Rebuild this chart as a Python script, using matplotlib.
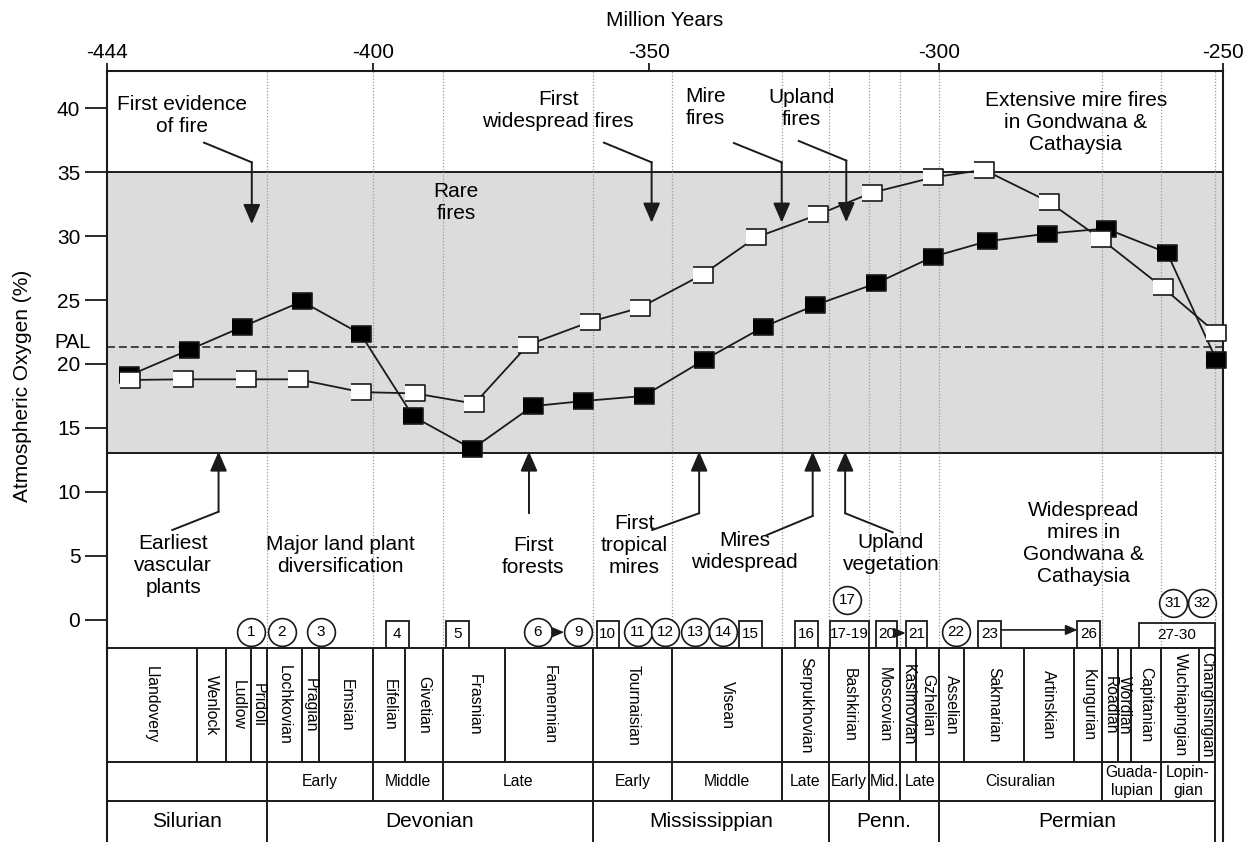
import numpy as np
import matplotlib
matplotlib.use("Agg")
import matplotlib.pyplot as plt
from matplotlib.patches import Rectangle

plt.rcParams['font.family'] = ['Liberation Sans', 'DejaVu Sans']

#Axe des temps (Ma) : graduations du haut
ticks_ma = [-444, -400, -350, -300, -250]
tick_labels = ['-444', '-400', '-350', '-300', '-250']
#l'axe imprime n'est pas lineaire : longueur relative de chaque tranche
ticks_pos = [0, 266, 542.6, 832.3, 1116]

#Courbes d'oxygene (%)
ages_noir = [-440.3, -430.4, -421.6, -411.7, -402.0, -392.7, -382.0, -371.1, -361.9, -351.0,
             -340.6, -330.3, -321.4, -310.9, -301.0, -291.5, -280.9, -270.6, -259.8, -251.1]
o2_noir = [19.1, 21.1, 22.9, 24.9, 22.35, 15.9, 13.35, 16.7, 17.1, 17.5,
           20.3, 22.9, 24.6, 26.3, 28.4, 29.6, 30.2, 30.6, 28.7, 20.3]
ages_blanc = [-440.1, -431.4, -421.0, -412.3, -401.9, -392.4, -381.6, -371.9, -360.7, -351.7,
              -340.8, -331.6, -320.8, -311.6, -301.0, -292.1, -280.7, -271.5, -260.6, -251.2]
o2_blanc = [18.75, 18.8, 18.8, 18.8, 17.8, 17.7, 16.9, 21.5, 23.3, 24.4,
            27.0, 29.9, 31.7, 33.4, 34.6, 35.2, 32.7, 29.8, 26.0, 22.45]

pal = 21.3
feux_bas, feux_haut = 13, 35

#Echelle geologique
etages = ['Llandovery', 'Wenlock', 'Ludlow', 'Pridoli', 'Lochkovian', 'Pragian', 'Emsian',
          'Eifelian', 'Givetian', 'Frasnian', 'Famennian', 'Tournaisian', 'Visean',
          'Serpukhovian', 'Bashkirian', 'Moscovian', 'Kasimovian', 'Gzhelian', 'Asselian',
          'Sakmarian', 'Artinskian', 'Kungurian', 'Roadian', 'Wordian', 'Capitanian',
          'Wuchiapingian', 'Changhsingian']
etages_lim = [-444, -429.1, -424.2, -420.2, -417.5, -411.7, -408.9, -400, -394.1, -387.3,
              -376.1, -360.2, -346.0, -327.1, -319.0, -312.1, -306.7, -304.0, -300, -295.6,
              -285.1, -276.2, -271.2, -268.5, -266.2, -260.8, -254.1, -251.4]
series = ['', 'Early', 'Middle', 'Late', 'Early', 'Middle', 'Late', 'Early', 'Mid.', 'Late',
          'Cisuralian', 'Guada-\nlupian', 'Lopin-\ngian']
series_lim = [-444, -417.5, -400, -387.3, -360.2, -346.0, -327.1, -319.0, -312.1, -306.7,
              -300, -271.2, -260.8, -251.4]
systemes = ['Silurian', 'Devonian', 'Mississippian', 'Penn.', 'Permian']
systemes_lim = [-444, -417.5, -360.2, -319.0, -300, -251.4]

#Evenements annotes
notes_haut = ['First evidence\nof fire', 'First\nwidespread fires', 'Mire\nfires',
              'Upland\nfires', 'Extensive mire fires\nin Gondwana &\nCathaysia', 'Rare\nfires']
notes_haut_x = [-431.6, -366.45, -340.3, -323.7, -275.9, -384.9]
notes_haut_y = [39.44, 39.82, 40.04, 40.03, 38.88, 32.66]
notes_bas = ['Earliest\nvascular\nplants', 'Major land plant\ndiversification', 'First\nforests',
             'First\ntropical\nmires', 'Mires\nwidespread', 'Upland\nvegetation',
             'Widespread\nmires in\nGondwana &\nCathaysia']
notes_bas_x = [-433.0, -405.4, -371.0, -352.7, -333.6, -308.3, -274.6]
notes_bas_y = [4.27, 5.05, 4.92, 5.78, 5.31, 5.21, 5.96]

fleches_x = [[-427.9, -420.0, -420.0], [-358.2, -349.6, -349.6], [-335.4, -327.15, -327.15],
             [-324.2, -316.0, -316.0], [-433.15, -425.5, -425.5], [-371.75, -371.75],
             [-349.5, -341.4, -341.4], [-329.7, -321.8, -321.8], [-308.0, -316.2, -316.2]]
fleches_y = [[37.32, 35.78, 30.95], [37.32, 35.78, 31.06], [37.29, 35.78, 31.06],
             [37.45, 35.92, 31.1], [7.01, 8.44, 13.15], [8.32, 13.15],
             [7.01, 8.32, 13.15], [6.62, 8.11, 13.15], [6.83, 8.32, 13.15]]

#References numerotees
cercles = ['1', '2', '3', '6', '9', '11', '12', '13', '14', '17', '22', '31', '32']
cercles_x = [-420.1, -415.05, -408.6, -370.2, -362.8, -352.1, -347.3, -342.1, -337.2,
             -315.9, -297.0, -258.7, -253.7]
cercles_y = [-1.0, -1.0, -1.0, -1.0, -1.0, -1.0, -1.0, -1.0, -1.0, 1.53, -1.0, 1.32, 1.32]
boites = ['4', '5', '10', '15', '16', '17-19', '20', '21', '23', '26', '27-30']
boites_x0 = [-397.6, -386.75, -359.5, -334.5, -324.85, -318.8, -310.9, -305.75, -293.1,
             -275.6, -264.7]
boites_x1 = [-393.5, -382.65, -355.5, -330.6, -320.9, -312.0, -307.2, -302.0, -289.1,
             -271.6, -251.4]
boites_haut = [-0.09, -0.09, -0.09, -0.09, -0.09, -0.09, -0.09, -0.09, -0.09, -0.09, -0.24]
liens_x0 = [-367.6, -307.2, -289.1]
liens_x1 = [-365.4, -305.75, -275.6]
liens_y = [-0.99, -1.05, -0.81]


def forward(x):
    x = np.asarray(x, dtype=float)
    p = np.interp(x, ticks_ma, ticks_pos)
    p = np.where(x < ticks_ma[0], ticks_pos[0] + (x - ticks_ma[0]) * 6.0, p)
    p = np.where(x > ticks_ma[-1], ticks_pos[-1] + (x - ticks_ma[-1]) * 5.7, p)
    return p


def inverse(p):
    p = np.asarray(p, dtype=float)
    x = np.interp(p, ticks_pos, ticks_ma)
    x = np.where(p < ticks_pos[0], ticks_ma[0] + (p - ticks_pos[0]) / 6.0, x)
    x = np.where(p > ticks_pos[-1], ticks_ma[-1] + (p - ticks_pos[-1]) / 5.7, x)
    return x


def milieu(a, b):
    return float(inverse((forward(a) + forward(b)) / 2))


noir = '#1a1a1a'
W, H = 1245, 842
fig = plt.figure(figsize=(12.45, 8.42), dpi=100)
ax = fig.add_axes([106.7 / W, 1 - 647.7 / H, 1116 / W, 577 / H])
tab = fig.add_axes([106.7 / W, 0, 1116 / W, 194.3 / H], sharex=ax)
ax.set_xscale('function', functions=(forward, inverse))
ax.set_xlim(-444, -250)
ax.set_ylim(-2.2, 42.95)

#zone grise + limites
ax.axhspan(feux_bas, feux_haut, color='#dcdcdc', lw=0, zorder=0)
ax.axhline(feux_bas, color=noir, lw=1.4, zorder=1)
ax.axhline(feux_haut, color=noir, lw=1.4, zorder=1)
for x in series_lim[1:]:
    ax.axvline(x, color='#9a9a9a', lw=0.9, ls=(0, (1, 1.5)), zorder=1)
ax.axhline(pal, color=noir, lw=1.1, ls=(0, (5.2, 2.6)), zorder=2)
ax.text(-0.014, pal + 0.35, 'PAL', transform=ax.get_yaxis_transform(),
        ha='right', va='center', fontsize=14.5)

#courbes
rect = [(-1, -0.78), (1, -0.78), (1, 0.78), (-1, 0.78)]
ax.plot(ages_noir, o2_noir, '-', color=noir, lw=1.3, marker=rect, ms=15,
        mfc='black', mec=noir, mew=1.2, zorder=4, clip_on=False)
ax.plot(ages_blanc, o2_blanc, '-', color=noir, lw=1.3, marker=rect, ms=15,
        mfc='white', mec=noir, mew=1.2, zorder=5, clip_on=False)

#annotations
for s, x, y in zip(notes_haut, notes_haut_x, notes_haut_y):
    ax.text(x, y, s, ha='center', va='center', fontsize=15, linespacing=1.2, zorder=3)
for s, x, y in zip(notes_bas, notes_bas_x, notes_bas_y):
    ax.text(x, y, s, ha='center', va='center', fontsize=15, linespacing=1.2, zorder=3)

for xs, ys in zip(fleches_x, fleches_y):
    if len(xs) > 2:
        ax.plot(xs[:-1], ys[:-1], color=noir, lw=1.4, zorder=3)
    ax.annotate('', xy=(xs[-1], ys[-1]), xytext=(xs[-2], ys[-2]),
                arrowprops=dict(arrowstyle='-|>,head_length=0.6,head_width=0.26',
                                color=noir, lw=1.4, shrinkA=0, shrinkB=0, mutation_scale=20),
                zorder=3)

#references
for s, x0, x1, yh in zip(boites, boites_x0, boites_x1, boites_haut):
    ax.add_patch(Rectangle((x0, -2.2), x1 - x0, yh + 2.2, fc='none', ec=noir, lw=1.3,
                           clip_on=False, zorder=6))
    ax.text(milieu(x0, x1), (yh - 2.2) / 2, s, ha='center', va='center', fontsize=11, zorder=7)
ax.plot(cercles_x, cercles_y, 'o', ms=20, mfc='white', mec=noir, mew=1.2,
        clip_on=False, zorder=6)
for s, x, y in zip(cercles, cercles_x, cercles_y):
    ax.text(x, y, s, ha='center', va='center', fontsize=11, zorder=7)
for x0, x1, y in zip(liens_x0, liens_x1, liens_y):
    ax.annotate('', xy=(x1, y), xytext=(x0, y),
                arrowprops=dict(arrowstyle='-|>,head_length=0.7,head_width=0.3',
                                color=noir, lw=1.2, shrinkA=0, shrinkB=0, mutation_scale=10),
                zorder=7)

#axes
ax.xaxis.set_label_position('top')
ax.set_xticks(ticks_ma)
ax.set_xticklabels(tick_labels)
ax.tick_params(axis='x', top=True, bottom=False, labeltop=True, labelbottom=False,
               length=6, width=1.3, labelsize=15, pad=0.5, color=noir)
ax.set_xlabel('Million Years', fontsize=15, labelpad=11.7)
ax.set_yticks(range(0, 45, 5))
ax.tick_params(axis='y', length=16, width=1.3, labelsize=15, pad=3, color=noir)
ax.set_ylabel('Atmospheric Oxygen (%)', fontsize=15, va='center')
ax.yaxis.set_label_coords(-0.075, 0.4536)
ax.spines['bottom'].set_visible(False)
for k in ['left', 'top', 'right']:
    ax.spines[k].set_linewidth(1.5)
    ax.spines[k].set_color(noir)

#tableau stratigraphique
tab.set_ylim(0, 1)
tab.tick_params(axis='both', which='both', top=False, bottom=False, left=False, right=False,
                labeltop=False, labelbottom=False, labelleft=False)
tab.spines['top'].set_visible(False)
tab.spines['bottom'].set_visible(False)
for k in ['left', 'right']:
    tab.spines[k].set_linewidth(1.5)
    tab.spines[k].set_color(noir)
haut, l1, l2 = 1.0, 0.41, 0.2126
for y in [haut, l1, l2]:
    tab.plot([-444, etages_lim[-1]], [y, y], color=noir, lw=1.4, clip_on=False)
tab.vlines(etages_lim[1:], l1, haut, color=noir, lw=1.4)
tab.vlines(series_lim[1:], l2, l1, color=noir, lw=1.4)
tab.vlines(systemes_lim[1:], 0, l2, color=noir, lw=1.4)
for i, s in enumerate(etages):
    tab.text(milieu(etages_lim[i], etages_lim[i + 1]), (l1 + haut) / 2, s, rotation=270,
             ha='center', va='center', fontsize=11.3)
for i, s in enumerate(series):
    tab.text(milieu(series_lim[i], series_lim[i + 1]), (l2 + l1) / 2, s,
             ha='center', va='center', fontsize=11.3, linespacing=1.25)
for i, s in enumerate(systemes):
    tab.text(milieu(systemes_lim[i], systemes_lim[i + 1]), l2 / 2, s,
             ha='center', va='center', fontsize=15)

fig.savefig('out.png', dpi=100)
